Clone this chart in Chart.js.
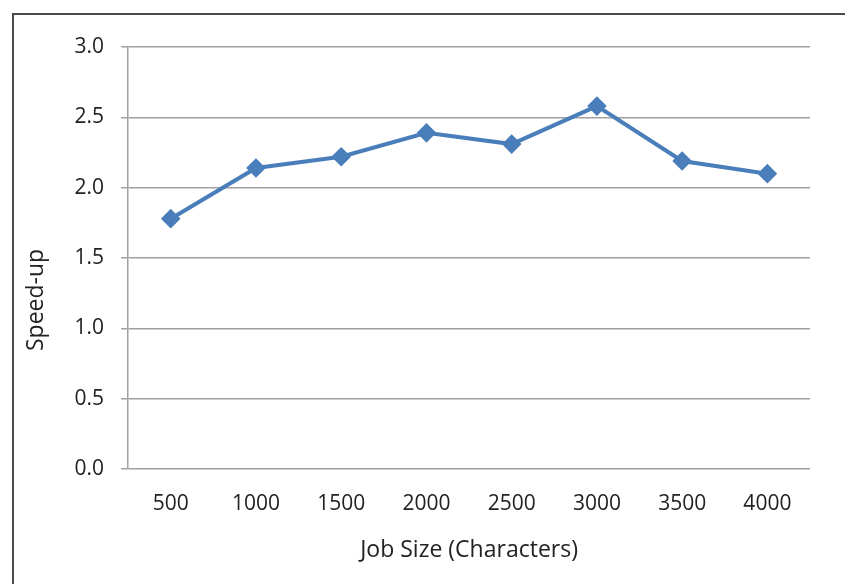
<!DOCTYPE html>
<html lang="en">

<head>
	<meta charset="UTF-8">
	<script src="https://cdn.jsdelivr.net/npm/chart.js@4.4.1/dist/chart.umd.min.js"></script>
	<title>Speed-up vs Job Size</title>
	<style>
		html, body { margin: 0; padding: 0; background: #fff; }
		#wrap { position: relative; width: 845px; height: 584px; }
		#frame {
			position: absolute; left: 12px; top: 13px; right: 0; bottom: 0;
			border-left: 2px solid #4a4a4a; border-top: 2px solid #4a4a4a;
			pointer-events: none;
		}
	</style>
</head>

<body>
	<div id="wrap">
		<canvas id="myChart" width="845" height="584"></canvas>
		<div id="frame"></div>
	</div>
	<script>
		let jobSizes = ["500", "1000", "1500", "2000", "2500", "3000", "3500", "4000"];
		let speedUp = [1.78, 2.14, 2.22, 2.39, 2.31, 2.58, 2.19, 2.10];
		let yTicks = [0, 0.5, 1.0, 1.5, 2.0, 2.5, 3.0];
		let lineColor = "#4a7ebb";
		let gridColor = "#a0a0a0";
		let textColor = "#222222";
		let fontFamily = "'Open Sans', 'Noto Sans', sans-serif";

		new Chart("myChart", {
			type: "line",
			data: {
				labels: jobSizes,
				datasets: [{
					data: speedUp,
					borderColor: lineColor,
					backgroundColor: lineColor,
					borderWidth: 4,
					pointStyle: "rectRot",
					pointRadius: 7,
					pointHoverRadius: 7,
					tension: 0
				}]
			},
			options: {
				responsive: false,
				animation: false,
				layout: { padding: { left: 19, right: 35, top: 47, bottom: 16 } },
				plugins: {
					legend: { display: false },
					tooltip: { enabled: false }
				},
				scales: {
					x: {
						offset: true,
						grid: { display: false },
						border: { display: false },
						ticks: { color: textColor, font: { family: fontFamily, size: 21 }, padding: 14 },
						title: {
							display: true,
							text: "Job Size (Characters)",
							color: textColor,
							font: { family: fontFamily, size: 23 },
							padding: { top: 6 }
						}
					},
					y: {
						min: 0,
						max: 3,
						afterBuildTicks: axis => { axis.ticks = yTicks.map(v => ({ value: v })); },
						grid: { color: gridColor, lineWidth: 1.5, tickLength: 7 },
						border: { color: gridColor, width: 1.5 },
						ticks: {
							color: textColor,
							font: { family: fontFamily, size: 21 },
							padding: 17,
							callback: v => v.toFixed(1)
						},
						title: {
							display: true,
							text: "Speed-up              ",
							color: textColor,
							font: { family: fontFamily, size: 23 },
							padding: { bottom: 7 }
						}
					}
				}
			}
		});
	</script>
</body>

</html>
